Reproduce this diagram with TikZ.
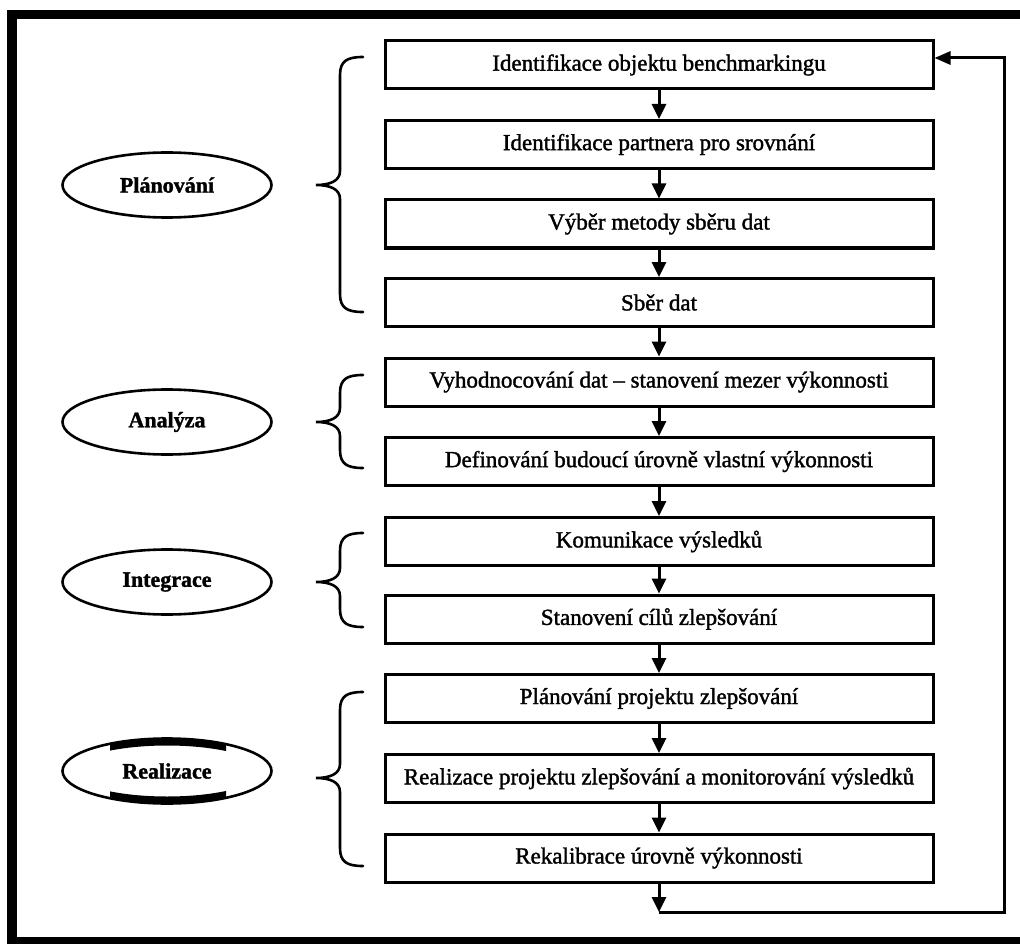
\documentclass[tikz,border=0pt]{standalone}
\usepackage{fontspec}
\setmainfont{Liberation Serif}
\newfontfamily\boxfont[FakeBold=1.5]{Liberation Serif}
\newfontfamily\labelfont[FakeBold=1.5]{Liberation Serif Bold}
\usetikzlibrary{shapes.geometric,arrows.meta}
\begin{document}
\begin{tikzpicture}[x=1pt,y=-1pt,
  stepbox/.style={draw,line width=3pt,minimum width=548pt,minimum height=48pt,inner sep=0pt,font=\boxfont\fontsize{23}{27}\selectfont},
  phase/.style={ellipse,draw,line width=2.6pt,minimum width=209pt,minimum height=65pt,inner sep=0pt,font=\labelfont\fontsize{22}{26}\selectfont},
  flow/.style={line width=3pt,-{Triangle[width=14pt,length=15pt]}},
  bracestyle/.style={line width=2.6pt,line cap=round}]
\useasboundingbox (0,0) rectangle (1020,944);
\fill[white] (0,0) rectangle (1020,944);
% frame
\fill[black] (7,10) rectangle (1020,19);
\fill[black] (7,10) rectangle (17,944);
\fill[black] (7,937) rectangle (1020,944);
% steps
\node[stepbox] (b1) at (659,65) {Identifikace objektu benchmarkingu};
\node[stepbox] (b2) at (659,144.5) {Identifikace partnera pro srovnání};
\node[stepbox] (b3) at (659,224) {Výběr metody sběru dat};
\node[stepbox] (b4) at (659,302.5) {Sběr dat};
\node[stepbox] (b5) at (659,382) {Vyhodnocování dat – stanovení mezer výkonnosti};
\node[stepbox] (b6) at (659,461.5) {Definování budoucí úrovně vlastní výkonnosti};
\node[stepbox] (b7) at (659,541.5) {Komunikace výsledků};
\node[stepbox] (b8) at (659,619) {Stanovení cílů zlepšování};
\node[stepbox] (b9) at (659,698.5) {Plánování projektu zlepšování};
\node[stepbox] (b10) at (659,778.5) {Realizace projektu zlepšování a monitorování výsledků};
\node[stepbox] (b11) at (659,858) {Rekalibrace úrovně výkonnosti};
% arrows
\foreach \a/\b in {b1/b2,b2/b3,b3/b4,b4/b5,b5/b6,b6/b7,b7/b8,b8/b9,b9/b10,b10/b11}
  \draw[flow] (\a) -- (\b);
\coordinate (c1) at (659,912);
\coordinate (c2) at (1004,912);
\coordinate (c3) at (1004,58);
\draw[flow] (b11) -- (c1);
\draw[line width=3pt,-{Triangle[width=13pt,length=16pt]}] (c1) -- (c2) -- (c3) -- (b1.east |- c3);
% phases
\node[phase] (planovani) at (167,185) {Plánování};
\node[phase] (analyza) at (167,422) {Analýza};
\node[phase] (integrace) at (167,582) {Integrace};
\node[phase] (realizace) at (167,771) {Realizace};
\begin{scope}
  \clip (110,700) rectangle (226,845);
  \draw[line width=7pt] (realizace.center) ellipse [x radius=101, y radius=29];
\end{scope}
% braces
\foreach \t/\m/\b in {57/185/312, 375/422/468, 533/582/627, 692/778/866}
  \draw[bracestyle] (363,\t) .. controls (347,\t) and (340,\t+4) .. (340,\t+18)
    -- (340,\m-14) .. controls (340,\m-4) and (330,\m) .. (316,\m)
    .. controls (330,\m) and (340,\m+4) .. (340,\m+14)
    -- (340,\b-18) .. controls (340,\b-4) and (347,\b) .. (363,\b);
\end{tikzpicture}
\end{document}
